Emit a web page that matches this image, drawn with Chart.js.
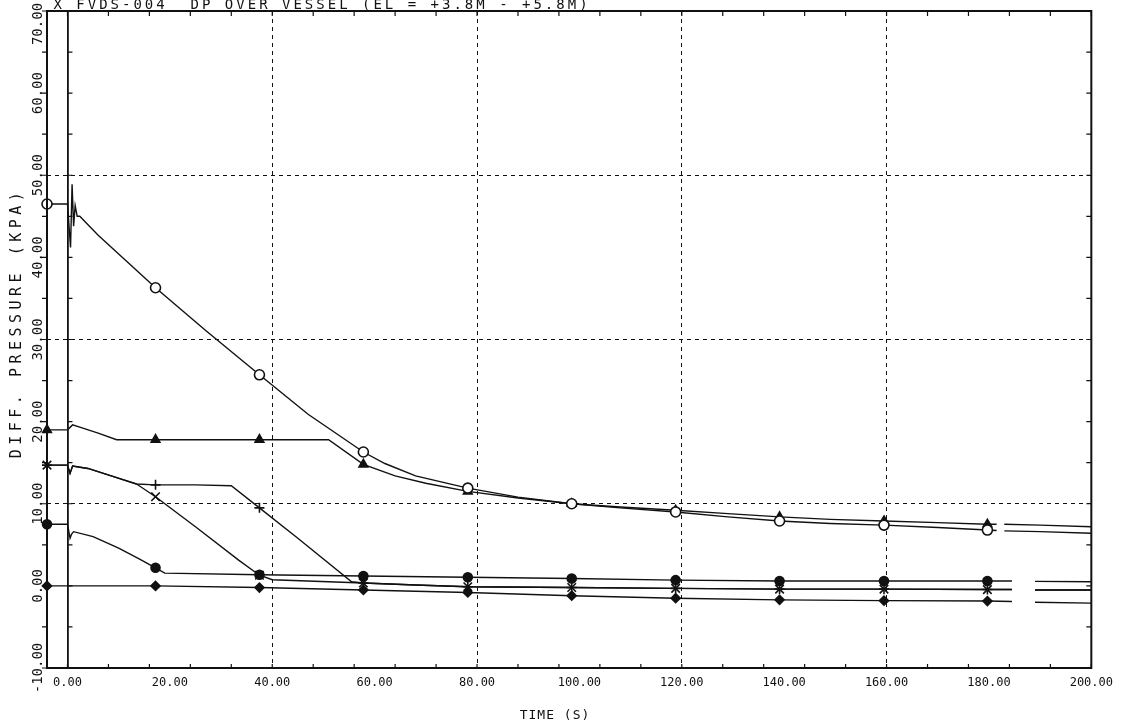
<!DOCTYPE html>
<html>
<head>
<meta charset="utf-8">
<script src="https://cdn.jsdelivr.net/npm/chart.js@4.4.1/dist/chart.umd.min.js"></script>
<style>
  html, body { margin: 0; padding: 0; background: #fff; }
  #wrap { width: 1121px; height: 723px; position: relative; }
</style>
</head>
<body>
<div id="wrap"><canvas id="dp"></canvas></div>
<script>
const INK  = '#111';
const MONO = '"DejaVu Sans Mono", "Liberation Mono", monospace';

// symbol positions along every trace (s)
const MARK_T = [-4, 17.2, 37.5, 57.8, 78.2, 98.5, 118.8, 139.1, 159.5, 179.7];

// open circle trace
const CIRCLE_T = [-4, 0, 0.6, 0.9, 1.2, 1.5, 1.9, 2.4, 6, 10, 17.2, 27, 37.5, 47, 57.8, 62, 68, 78.2, 88, 98.5, 108, 118.8, 129, 139.1, 149, 159.5, 170, 179.7, 181.5, 182, 183, 190, 200];
const CIRCLE_P = [46.5, 46.5, 41.2, 48.9, 43.8, 46.3, 45.0, 45.0, 42.7, 40.4, 36.3, 31.1, 25.7, 20.9, 16.3, 14.9, 13.4, 11.9, 10.8, 10.0, 9.5, 9.0, 8.4, 7.9, 7.6, 7.4, 7.1, 6.8, 6.75, null, 6.7, 6.6, 6.4];

// filled triangle trace
const TRI_T = [-4, 0, 0.5, 1, 3, 6, 9.6, 17.2, 37.5, 51, 57.8, 64, 70, 78.2, 88, 98.5, 108, 118.8, 129, 139.1, 149, 159.5, 170, 179.7, 181.5, 182, 183, 190, 200];
const TRI_P = [19.0, 19.0, 19.3, 19.6, 19.2, 18.6, 17.8, 17.8, 17.8, 17.8, 14.8, 13.4, 12.5, 11.5, 10.7, 10.0, 9.6, 9.2, 8.8, 8.4, 8.1, 7.9, 7.7, 7.5, 7.5, null, 7.5, 7.4, 7.2];

// plus trace
const PLUS_T = [-4, 0, 0.5, 1, 4, 9, 13.5, 17.2, 25, 32, 37.5, 45, 55.5, 57.8, 68, 78.2, 98.5, 118.8, 139.1, 159.5, 179.7, 184.5, 185, 189, 200];
const PLUS_P = [14.7, 14.7, 13.7, 14.6, 14.3, 13.3, 12.4, 12.3, 12.3, 12.2, 9.5, 5.8, 0.5, 0.35, 0.1, -0.1, -0.2, -0.3, -0.4, -0.4, -0.45, -0.45, null, -0.5, -0.5];

// x trace
const CROSS_T = [-4, 0, 0.5, 1, 4, 9, 13.5, 17.2, 25, 33.5, 37.5, 40, 57.8, 68, 78.2, 98.5, 118.8, 139.1, 159.5, 179.7, 184.5, 185, 189, 200];
const CROSS_P = [14.7, 14.7, 13.7, 14.6, 14.3, 13.3, 12.4, 10.85, 7.2, 3.1, 1.3, 0.75, 0.35, 0.1, -0.1, -0.2, -0.3, -0.4, -0.4, -0.45, -0.45, null, -0.5, -0.5];

// filled dot trace
const DOT_T = [-4, 0, 0.5, 0.8, 1.2, 5, 10, 14, 17.2, 19, 37.5, 57.8, 78.2, 98.5, 118.8, 139.1, 159.5, 179.7, 184.5, 185, 189, 200];
const DOT_P = [7.5, 7.5, 5.8, 6.3, 6.6, 6.0, 4.6, 3.3, 2.2, 1.55, 1.35, 1.2, 1.05, 0.9, 0.7, 0.6, 0.6, 0.6, 0.6, null, 0.55, 0.5];

// diamond trace
const DIAM_T = [-4, 0, 17.2, 37.5, 57.8, 78.2, 98.5, 118.8, 139.1, 159.5, 179.7, 184.5, 185, 189, 200];
const DIAM_P = [0, 0, 0, -0.2, -0.5, -0.8, -1.2, -1.5, -1.7, -1.8, -1.85, -1.9, null, -2.0, -2.1];

const X_TICKS  = [-4, 0, 20, 40, 60, 80, 100, 120, 140, 160, 180, 200];
const Y_LABELS = [-10, 0, 10, 20, 30, 40, 50, 60, 70];
const X_GRID = [40, 80, 120, 160];
const Y_GRID = [10, 30, 50];

const TITLE  = 'X FVDS-004  DP OVER VESSEL (EL = +3.8M - +5.8M)';
const Y_NAME = 'DIFF. PRESSURE (KPA)';
const X_NAME = 'TIME (S)';

function trace(times, vals, shape, r, fill) {
  return {
    data: times.map((t, i) => ({ x: t, y: vals[i] })),
    borderColor: INK,
    borderWidth: 1.4,
    pointStyle: shape,
    pointRadius: c => (c.raw && MARK_T.includes(c.raw.x)) ? r : 0,
    pointBackgroundColor: fill,
    pointBorderColor: INK,
    pointBorderWidth: 1.6,
    tension: 0,
    spanGaps: false,
    clip: false,
  };
}

function drawText(ctx, text, x, y, font, spacing, angle) {
  ctx.save();
  ctx.translate(x, y);
  if (angle) ctx.rotate(angle);
  ctx.font = font;
  ctx.letterSpacing = spacing + 'px';
  ctx.textAlign = 'center';
  ctx.textBaseline = 'middle';
  ctx.fillText(text, 0, 0);
  ctx.restore();
}

// frame, inward ticks, rotated y labels and titles
const plotFrame = {
  id: 'plotFrame',
  afterDraw(chart) {
    const { ctx, chartArea: a, scales: { x, y } } = chart;
    ctx.save();
    ctx.strokeStyle = INK;
    ctx.lineWidth = 2;
    ctx.strokeRect(a.left, a.top, a.right - a.left, a.bottom - a.top);

    ctx.lineWidth = 1.2;
    ctx.beginPath();
    for (let v = 0; v <= 200; v += 8) {
      const px = x.getPixelForValue(v);
      ctx.moveTo(px, a.bottom); ctx.lineTo(px, a.bottom - 4);
      ctx.moveTo(px, a.top);    ctx.lineTo(px, a.top + 5);
    }
    const x0 = x.getPixelForValue(0);
    for (let v = -10; v <= 70; v += 5) {
      const py = y.getPixelForValue(v);
      ctx.moveTo(a.left - 5, py);  ctx.lineTo(a.left, py);
      ctx.moveTo(x0, py);          ctx.lineTo(x0 + 5, py);
      ctx.moveTo(a.right - 5, py); ctx.lineTo(a.right, py);
    }
    ctx.stroke();

    ctx.fillStyle = INK;
    Y_LABELS.forEach(v => {
      const py = Math.max(y.getPixelForValue(v), 24);
      drawText(ctx, v.toFixed(2), 38, py, `14px ${MONO}`, 0, -Math.PI / 2);
    });
    drawText(ctx, Y_NAME, 17, 323, `15px ${MONO}`, 4.5, -Math.PI / 2);
    drawText(ctx, X_NAME, 555, 716, `13px ${MONO}`, 1, 0);
    drawText(ctx, TITLE, 322, 5, `14px ${MONO}`, 3, 0);
    ctx.restore();
  }
};

new Chart(document.getElementById('dp'), {
  type: 'line',
  data: {
    datasets: [
      trace(CIRCLE_T, CIRCLE_P, 'circle', 5, '#fff'),
      trace(TRI_T, TRI_P, 'triangle', 5, INK),
      trace(PLUS_T, PLUS_P, 'cross', 5, INK),
      trace(CROSS_T, CROSS_P, 'crossRot', 6, INK),
      trace(DOT_T, DOT_P, 'circle', 4.5, INK),
      trace(DIAM_T, DIAM_P, 'rectRot', 4.5, INK),
    ]
  },
  options: {
    responsive: true,
    maintainAspectRatio: false,
    animation: false,
    layout: { padding: { top: 11, right: 26, left: 0, bottom: 0 } },
    plugins: { legend: { display: false }, tooltip: { enabled: false }, title: { display: false } },
    scales: {
      x: {
        type: 'linear',
        min: -4, max: 200,
        afterFit: s => { s.height = 55; },
        afterBuildTicks: s => { s.ticks = X_TICKS.map(v => ({ value: v })); },
        border: { display: false, dash: c => (c.tick && c.tick.value !== 0) ? [4, 4] : [] },
        grid: {
          drawTicks: false,
          color: c => (c.tick && (X_GRID.includes(c.tick.value) || c.tick.value === 0)) ? INK : 'rgba(0,0,0,0)',
          lineWidth: c => (c.tick && c.tick.value === 0) ? 1.8 : 1,
        },
        ticks: {
          autoSkip: false,
          maxRotation: 0,
          padding: 8,
          color: INK,
          font: { family: MONO, size: 12 },
          callback: v => (v % 20 === 0) ? v.toFixed(2) : '',
        },
      },
      y: {
        min: -10, max: 70,
        afterFit: s => { s.width = 47; },
        border: { display: false, dash: c => c.tick ? [4, 4] : [] },
        grid: {
          drawTicks: false,
          color: c => (c.tick && Y_GRID.includes(c.tick.value)) ? INK : 'rgba(0,0,0,0)',
          lineWidth: 1,
        },
        ticks: { stepSize: 10, display: false },
      },
    },
  },
  plugins: [plotFrame],
});
</script>
</body>
</html>
